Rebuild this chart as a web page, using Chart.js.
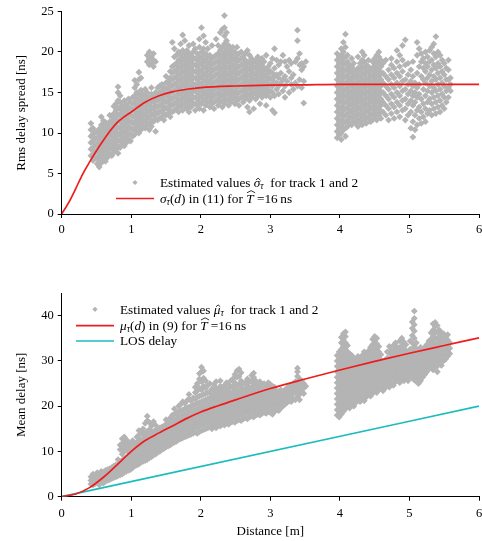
<!DOCTYPE html>
<html>
<head>
<meta charset="utf-8">
<script src="https://cdn.jsdelivr.net/npm/chart.js@4.4.1/dist/chart.umd.min.js"></script>
<style>
html,body{margin:0;padding:0;background:#fff;}
#wrap{position:relative;width:482px;height:541px;overflow:hidden;}
canvas{position:absolute;left:0;}
#c1{top:0;}
#c2{top:270px;}
</style>
</head>
<body>
<div id="wrap">
<canvas id="c1" width="490" height="245"></canvas>
<canvas id="c2" width="490" height="271"></canvas>
</div>
<script>
// ---------- tick labels ----------
const distanceTicks = [0, 1, 2, 3, 4, 5, 6];
const rmsTicks = [0, 5, 10, 15, 20, 25];
const meanTicks = [0, 10, 20, 30, 40];

// ---------- scatter data: each row = [distance, values at that distance...] ----------
const rmsTrack1 = [
[0.42,7.2,8.0,8.8,9.6,10.4,11.2],[0.45,6.6,7.4,8.2,9.0,9.8,10.6],[0.48,6.9,7.7,8.5,9.3,10.1],
[0.51,6.2,7.0,7.8,8.6,9.4,10.2],[0.54,5.8,6.6,7.4,8.2,9.0,9.8,10.5],[0.57,6.3,7.1,7.9,8.7,9.5,10.3,11.0,12.0],
[0.60,6.8,7.6,8.4,9.2,10.0,10.8,11.5],[0.63,6.5,7.3,8.1,8.9,9.7,10.5,11.3],[0.66,7.0,7.8,8.6,9.4,10.2,11.0],
[0.69,7.4,8.2,9.0,9.8,10.6,11.4,12.2],[0.72,7.2,8.0,8.8,9.6,10.4,11.2,12.0],[0.75,7.6,8.4,9.2,10.0,10.8,11.6,12.4,13.3],
[0.78,8.0,8.8,9.6,10.4,11.2,12.0,12.8,13.6],[0.81,7.5,8.3,9.1,9.9,10.7,11.5,12.3,13.1,14.0,15.0,15.7],
[0.84,8.2,9.0,9.8,10.6,11.4,12.2,13.0,13.8,14.6],[0.87,8.6,9.4,10.2,11.0,11.8,12.6,13.4],
[0.90,8.4,9.2,10.0,10.8,11.6,12.4,13.2,14.0],[0.93,8.8,9.6,10.4,11.2,12.0,12.8,13.6],
[0.96,9.2,10.0,10.8,11.6,12.4,13.2,14.2],[0.99,9.0,9.8,10.6,11.4,12.2,13.0,13.8],
[1.02,9.6,10.4,11.2,12.0,12.8,13.6,14.4],[1.05,9.8,10.6,11.4,12.2,13.0,13.8,14.6,15.6,16.5],
[1.08,10.2,11.0,11.8,12.6,13.4,14.2,15.0,16.0],[1.11,10.0,10.8,11.6,12.4,13.2,14.0,14.8,16.6,17.5],
[1.14,10.4,11.2,12.0,12.8,13.6,14.4,15.3,16.8],[1.17,10.8,11.6,12.4,13.2,14.0,14.8],
[1.20,10.6,11.4,12.2,13.0,13.8,14.6,15.4],[1.23,11.0,11.8,12.6,13.4,14.2,15.0,18.8,19.6],
[1.26,10.4,11.2,12.0,12.8,13.6,14.4,18.4,19.2,20.0],[1.29,10.8,11.6,12.4,13.2,14.0,14.8,15.6,18.6,19.4],
[1.32,11.4,12.2,13.0,13.8,14.6,18.2,19.0,19.8],[1.35,10.2,11.8,12.6,13.4,14.2,15.0,18.8],
[1.38,11.6,12.4,13.2,14.0,14.8,15.6],[1.41,11.8,12.6,13.4,14.2,15.0,15.8],[1.44,12.0,12.8,13.6,14.4,15.2,16.0],
[1.47,11.6,12.4,13.2,14.0,14.8,15.6],[1.50,12.2,13.0,13.8,14.6,15.4,16.2,17.0],[1.53,12.4,13.2,14.0,14.8,15.6,16.4],
[1.56,12.0,12.8,13.6,14.4,15.2,16.0,16.8,17.6],[1.59,12.6,13.4,14.2,15.0,15.8,16.6,17.4,18.2,21.2],
[1.62,12.8,13.6,14.4,15.2,16.0,16.8,17.6,18.4,19.4,20.4],[1.65,13.0,13.8,14.6,15.4,16.2,17.0,17.8,18.6,19.6],
[1.68,12.6,13.4,14.2,15.0,15.8,16.6,17.4,18.2,19.0,20.0],[1.71,13.2,14.0,14.8,15.6,16.4,17.2,18.0,18.8,19.6,21.0],
[1.74,12.8,13.6,14.4,15.2,16.0,16.8,17.6,18.4,19.2,20.2,22.1],[1.77,13.4,14.2,15.0,15.8,16.6,17.4,18.2,19.0,19.8,21.4],
[1.80,13.0,13.8,14.6,15.4,16.2,17.0,17.8,18.6,19.4,20.2],[1.83,12.6,13.4,14.2,15.0,15.8,16.6,17.4,18.2,19.0,19.8,20.8],
[1.86,13.2,14.0,14.8,15.6,16.4,17.2,18.0,18.8,19.6],[1.89,13.6,14.4,15.2,16.0,16.8,17.6,18.4,19.2,20.0,21.0],
[1.92,12.8,13.6,14.4,15.2,16.0,16.8,17.6,18.4,19.2,20.4],[1.95,13.4,14.2,15.0,15.8,16.6,17.4,18.2,19.0,19.8],
[1.98,13.0,13.8,14.6,15.4,16.2,17.0,17.8,18.6,19.4,20.6,21.6],[2.01,13.6,14.4,15.2,16.0,16.8,17.6,18.4,19.2,20.0,23.0],
[2.04,12.8,14.0,14.8,15.6,16.4,17.2,18.0,18.8,19.6,20.4,22.0],[2.07,13.4,14.2,15.0,15.8,16.6,17.4,18.2,19.0,19.8,21.2],
[2.10,13.8,14.6,15.4,16.2,17.0,17.8,18.6,19.4,20.4],[2.13,13.2,14.0,14.8,15.6,16.4,17.2,18.0,18.8,19.6],
[2.16,13.6,14.4,15.2,16.0,16.8,17.6,18.4,19.2,20.8],[2.19,13.0,13.8,14.6,15.4,16.2,17.0,17.8,18.6,19.4],
[2.22,14.0,14.8,15.6,16.4,17.2,18.0,18.8,19.6,21.6],[2.25,13.4,14.2,15.0,15.8,16.6,17.4,18.2,19.0,19.8,20.8],
[2.28,13.8,14.6,15.4,16.2,17.0,17.8,18.6,19.4,20.2,22.4],[2.31,13.2,14.0,14.8,15.6,16.4,17.2,18.0,18.8,19.6,20.6,22.8],
[2.34,13.6,14.4,15.2,16.0,16.8,17.6,18.4,19.2,20.0,21.0,22.0,23.0,24.5],[2.37,14.0,14.8,15.6,16.4,17.2,18.0,18.8,19.6,20.4,21.4,22.4],
[2.40,13.4,14.2,15.0,15.8,16.6,17.4,18.2,19.0,19.8,20.8],[2.43,13.8,14.6,15.4,16.2,17.0,17.8,18.6,19.4,20.2],
[2.46,14.2,15.0,15.8,16.6,17.4,18.2,19.0,19.8,20.6],[2.49,13.6,14.4,15.2,16.0,16.8,17.6,18.4,19.2,20.0],
[2.52,14.0,14.8,15.6,16.4,17.2,18.0,18.8,19.6,20.6],[2.55,13.4,14.2,15.0,15.8,16.6,17.4,18.2,19.0,19.8],
[2.58,14.4,15.2,16.0,16.8,17.6,18.4,19.2,20.0],[2.61,13.8,14.6,15.4,16.2,17.0,17.8,18.6,19.4],
[2.64,14.2,15.0,15.8,16.6,17.4,18.2,19.0,19.8],[2.67,13.2,14.6,15.4,16.2,17.0,17.8,18.6,20.2],
[2.70,12.6,14.0,14.8,15.6,16.4,17.2,18.0,18.8,19.6],[2.73,14.4,15.2,16.0,16.8,17.6,18.4,19.2],
[2.76,13.0,14.8,15.6,16.4,17.2,18.0,18.8],[2.79,14.2,15.0,15.8,16.6,17.4,18.2,19.0],
[2.82,14.6,15.4,16.2,17.0,17.8,18.6,19.4],[2.85,13.6,14.8,15.6,16.4,17.2,18.0,18.8],
[2.88,14.4,15.2,16.0,16.8,17.6,18.4,19.2],[2.91,14.8,15.6,16.4,17.2,18.0,18.8],
[2.94,13.4,14.6,15.4,16.2,17.0,17.8,19.6],[2.97,15.0,15.8,16.6,17.4,18.2],
[3.00,14.4,15.2,16.0,16.8,17.6,18.6],[3.03,12.8,15.0,15.8,16.6,17.4,19.2],
[3.06,12.5,14.6,16.2,17.0,18.0,20.4],[3.09,15.4,16.2,17.2,19.0],[3.12,14.8,15.8,16.8,18.4],
[3.15,16.2,17.4,18.8],[3.18,15.2,16.6,19.6],[3.21,14.4,15.8,17.0,18.8],[3.24,16.4,18.2],
[3.27,15.0,17.6,19.0],[3.30,16.0,16.8,18.6],[3.33,15.4,17.2],[3.36,16.2,18.8],
[3.39,15.8,19.2,21.4,22.7],[3.42,16.6,18.4,19.8],[3.45,15.6,17.8,18.6],[3.48,13.7,16.4,18.2],[3.51,18.8]
];
const rmsTrack2 = [
[3.96,9.4,10.2,11.0,11.8,12.6,13.4,14.2,15.0,15.8,16.6,17.4,18.2,19.0,19.8],
[3.99,9.8,10.6,11.4,12.2,13.0,13.8,14.6,15.4,16.2,17.0,17.8,18.6,19.4],
[4.02,9.2,10.0,10.8,11.6,12.4,13.2,14.0,14.8,15.6,16.4,17.2,18.0,18.8,19.6,20.4],
[4.05,10.4,11.2,12.0,12.8,13.6,14.4,15.2,16.0,16.8,17.6,18.4,19.2,20.0,21.2],
[4.08,9.6,10.6,11.4,12.2,13.0,13.8,14.6,15.4,16.2,17.0,17.8,18.6,19.4,20.6,22.2],
[4.11,10.8,11.6,12.4,13.2,14.0,14.8,15.6,16.4,17.2,18.0,18.8,19.6],
[4.14,11.2,12.0,12.8,13.6,14.4,15.2,16.0,16.8,17.6,18.4],
[4.17,11.0,11.8,12.6,13.4,14.2,15.0,15.8,16.6,17.4,18.2,19.2],
[4.20,11.4,12.2,13.0,13.8,14.6,15.4,16.2,17.0,17.8,18.6],
[4.23,11.2,12.0,12.8,13.6,14.4,15.2,16.0,16.8,17.6],
[4.26,10.8,11.6,12.4,13.2,14.0,14.8,15.6,16.4,17.2,18.0,19.4],
[4.29,11.4,12.2,13.0,13.8,14.6,15.4,16.2,17.0,17.8,18.6],
[4.32,11.0,11.8,12.6,13.4,14.2,15.0,15.8,16.6,17.4,18.2,19.0,20.0],
[4.35,11.6,12.4,13.2,14.0,14.8,15.6,16.4,17.2,18.0,18.8,19.6],
[4.38,11.2,12.0,12.8,13.6,14.4,15.2,16.0,16.8,17.6,18.4],
[4.41,11.8,12.6,13.4,14.2,15.0,15.8,16.6,17.4,18.2,19.0],
[4.44,11.4,12.2,13.0,13.8,14.6,15.4,16.2,17.0,17.8],
[4.47,11.6,12.4,13.2,14.0,14.8,15.6,16.4,17.2,18.0,18.8],
[4.50,12.0,12.8,13.6,14.4,15.2,16.0,16.8,17.6,18.4,19.2],
[4.53,11.6,12.4,13.2,14.0,14.8,15.6,16.4,17.2,18.0,18.8,19.6],
[4.56,12.2,13.0,13.8,14.6,15.4,16.2,17.0,17.8,18.6,19.4,20.0],
[4.59,11.8,12.6,13.4,14.2,15.0,15.8,16.6,17.4,18.2,19.0],
[4.62,12.6,13.8,15.0,16.2,17.4,18.6],[4.66,12.2,13.4,14.6,15.8,17.0,19.0],
[4.70,11.6,13.0,14.2,15.4,16.6,17.8],[4.74,12.4,13.6,14.8,16.0,17.2,18.4,19.2],
[4.78,11.8,13.2,14.4,15.6,16.8,18.0],[4.82,12.6,13.8,15.0,16.2,17.4,18.8,20.2],
[4.86,12.0,13.4,14.6,15.8,17.0,18.2,19.6],[4.90,12.8,14.0,15.2,16.4,17.6,19.0,20.8],
[4.94,11.6,13.0,14.2,15.4,16.6,18.4,21.5],[4.98,12.2,13.6,14.8,16.0,17.2,18.6],
[5.02,10.6,12.6,14.0,15.2,16.4,17.8],[5.05,9.5,11.4,13.4,14.6,15.8,17.0,18.8],
[5.08,10.4,12.2,13.8,15.0,16.2],[5.11,11.0,12.8,14.4,15.6,17.4,19.6,21.2],
[5.14,11.8,13.2,14.8,16.0,18.2,20.4],[5.17,11.2,12.6,14.2,17.0,18.8,19.8],
[5.20,12.0,13.6,15.4,16.6,18.0,19.2],[5.23,11.4,13.0,14.6,16.2,17.6,18.6,20.0],
[5.26,12.4,13.8,15.2,16.8,18.2,19.4],[5.29,12.8,14.2,15.8,17.2,18.8,20.2],
[5.32,12.2,13.6,15.0,16.4,17.8,19.0,20.6],[5.35,13.0,14.4,15.6,17.0,18.4,19.8,21.0],
[5.38,12.4,13.8,15.2,16.6,18.0,19.4,21.9],[5.41,13.2,14.6,16.0,17.4,18.6,20.0],
[5.44,12.6,14.0,15.4,16.8,18.2,19.6],[5.47,13.4,14.8,16.2,17.6,19.0],
[5.50,13.0,14.4,15.8,17.2,18.6],[5.53,13.8,15.2,16.6,18.0],[5.56,14.4,15.6,16.6,17.8,19.0],[5.59,15.2,16.0,16.8]
];
const meanTrack1 = [
[0.42,2.8,3.6,4.4],[0.45,2.6,3.4,4.2,5.0],[0.48,2.9,3.7,4.5],[0.51,3.0,3.8,4.6,5.3],[0.54,2.6,3.4,4.2,5.0],
[0.57,3.2,4.0,4.8,5.6],[0.60,3.0,3.8,4.6,5.4],[0.63,3.4,4.2,5.0,5.8],[0.66,3.6,4.4,5.2,6.0],[0.69,3.8,4.6,5.4,6.2],
[0.72,4.0,4.8,5.6,6.4],[0.75,4.2,5.0,5.8,6.8],[0.78,4.4,5.2,6.0,7.0],[0.81,4.6,5.4,6.2,7.2,8.2],
[0.84,4.8,5.8,6.8,7.8,10.4,11.4],[0.87,5.0,6.0,7.0,8.0,9.4,10.6,11.8,12.8],[0.90,5.4,6.4,7.4,8.4,10.0,11.2,12.4,13.2],
[0.93,5.6,6.6,7.6,8.6,10.4,11.6,12.6],[0.96,5.8,6.8,7.8,8.8,9.8,11.0,12.0],[0.99,6.0,7.0,8.0,9.0,10.2,11.4],
[1.02,6.4,7.4,8.4,9.4,10.4,11.6,12.4],[1.05,6.8,7.8,8.8,9.8,10.8,11.8],[1.08,7.0,8.0,9.0,10.0,11.0,12.0,13.2],
[1.11,7.2,8.2,9.2,10.2,11.2,12.4,13.6,14.6],[1.14,7.6,8.6,9.6,10.6,11.6,12.6,14.2],
[1.17,7.8,8.8,9.8,10.8,11.8,12.8,13.8,15.0],[1.20,8.0,9.0,10.0,11.0,12.0,13.0,14.0,16.2],
[1.23,8.2,9.2,10.2,11.2,12.2,13.2,14.4,16.8,17.8],[1.26,8.6,9.6,10.6,11.6,12.6,13.6,14.8,16.4],
[1.29,8.8,9.8,10.8,11.8,12.8,14.0,15.6],[1.32,9.2,10.2,11.2,12.2,13.2,14.4,16.6],
[1.35,9.4,10.4,11.4,12.4,13.4,14.6,15.8],[1.38,9.8,10.8,11.8,12.8,13.8,15.0],[1.41,10.0,11.0,12.0,13.0,14.0,15.2],
[1.44,10.4,11.4,12.4,13.4,14.4,15.4],[1.47,10.6,11.6,12.6,13.6,14.6,15.6],[1.50,11.0,12.0,13.0,14.0,15.0,16.0,17.0],
[1.53,11.2,12.2,13.2,14.2,15.2,16.2],[1.56,11.4,12.4,13.4,14.4,15.4,16.4,17.4],[1.59,11.8,12.8,13.8,14.8,15.8,16.8,18.0],
[1.62,12.0,13.0,14.0,15.0,16.0,17.0,18.2,19.4],[1.65,12.2,13.2,14.2,15.2,16.2,17.2,18.4],
[1.68,12.6,13.6,14.6,15.6,16.6,17.6,18.8,20.0],[1.71,12.8,13.8,14.8,15.8,16.8,17.8,19.0,20.4],
[1.74,13.0,14.0,15.0,16.0,17.0,18.0,19.2,21.0],[1.77,13.2,14.2,15.2,16.2,17.2,18.2,19.4,20.6],
[1.80,13.4,14.4,15.4,16.4,17.4,18.4,19.6,21.2],[1.83,13.6,14.6,15.6,16.6,17.6,18.6,19.8,21.6,22.6],
[1.86,13.8,14.8,15.8,16.8,17.8,18.8,20.0,21.2],[1.89,14.0,15.0,16.0,17.0,18.0,19.0,20.2,21.8],
[1.92,14.2,15.2,16.2,17.2,18.2,19.2,20.4,21.6,23.0,24.2],[1.95,14.0,15.4,16.4,17.4,18.4,19.4,20.6,22.0,23.4,25.0],
[1.98,14.4,15.6,16.6,17.6,18.6,19.6,20.8,22.2,24.0,26.0,27.2],[2.01,14.6,15.8,16.8,17.8,18.8,19.8,21.0,22.4,23.6,25.4,27.6,28.6],
[2.04,14.8,16.0,17.0,18.0,19.0,20.0,21.2,22.6,24.4,26.2,27.8],[2.07,15.0,16.2,17.2,18.2,19.2,20.2,21.4,22.8,24.0,25.6],
[2.10,15.2,16.4,17.4,18.4,19.4,20.4,21.6,23.0,24.6],[2.13,15.4,16.6,17.6,18.6,19.6,20.6,21.8,23.2,25.0],
[2.16,15.0,16.2,17.2,18.2,19.2,20.2,21.2,22.4,23.8],[2.19,15.6,16.8,17.8,18.8,19.8,20.8,22.0,23.4,24.8],
[2.22,15.2,16.4,17.4,18.4,19.4,20.4,21.4,22.6,24.0,25.4],[2.25,15.8,17.0,18.0,19.0,20.0,21.0,22.2,23.6],
[2.28,15.6,16.8,17.8,18.8,19.8,20.8,21.8,23.0,24.4,25.6],[2.31,16.0,17.2,18.2,19.2,20.2,21.2,22.4,23.8],
[2.34,15.8,17.0,18.0,19.0,20.0,21.0,22.0,23.2,24.6],[2.37,16.2,17.4,18.4,19.4,20.4,21.4,22.6,24.0,25.2],
[2.40,16.0,17.2,18.2,19.2,20.2,21.2,22.2,23.4,24.6],[2.43,16.4,17.6,18.6,19.6,20.6,21.6,22.8,24.2,25.6],
[2.46,16.6,17.8,18.8,19.8,20.8,21.8,23.0,24.4,26.0],[2.49,16.4,17.6,18.6,19.6,20.6,21.6,22.6,23.8,25.2,27.0],
[2.52,16.8,18.0,19.0,20.0,21.0,22.0,23.2,24.6,26.4,27.8],[2.55,17.0,18.2,19.2,20.2,21.2,22.2,23.4,24.8,26.6,28.2],
[2.58,16.8,18.0,19.0,20.0,21.0,22.0,23.0,24.2,25.6,27.4],[2.61,17.2,18.4,19.4,20.4,21.4,22.4,23.6,25.0],
[2.64,17.4,18.6,19.6,20.6,21.6,22.6,23.8,25.2],[2.67,17.2,18.4,19.4,20.4,21.4,22.4,23.4,24.6,26.0],
[2.70,17.6,18.8,19.8,20.8,21.8,22.8,24.0,25.4],[2.73,17.8,19.0,20.0,21.0,22.0,23.0,24.2,25.6,26.8],
[2.76,17.6,18.8,19.8,20.8,21.8,22.8,23.8,25.0,26.4,27.3],[2.79,18.0,19.2,20.2,21.2,22.2,23.2,24.4,25.6],
[2.82,18.2,19.4,20.4,21.4,22.4,23.4,24.6],[2.85,18.0,19.2,20.2,21.2,22.2,23.2,24.2,25.4],
[2.88,18.4,19.6,20.6,21.6,22.6,23.6,24.8],[2.91,18.6,19.8,20.8,21.8,22.8,23.8,25.0],
[2.94,18.4,19.6,20.6,21.6,22.6,23.6,24.6],[2.97,18.8,20.0,21.0,22.0,23.0,24.0,25.2],
[3.00,18.6,19.8,20.8,21.8,22.8,23.8,24.8],[3.03,18.2,19.4,20.6,21.6,22.6,23.6,24.4],
[3.06,18.8,20.0,21.2,22.2,23.2,24.2],[3.09,19.2,20.4,21.4,22.4,23.4],[3.12,19.0,20.2,21.2,22.2,23.2],
[3.15,19.6,20.8,21.8,22.8,23.6],[3.18,20.0,21.0,22.0,23.0],[3.21,20.4,21.6,22.6,23.6],[3.24,20.8,21.8,22.8,24.0],
[3.27,21.2,22.2,23.2,24.4],[3.30,21.0,22.4,23.4,24.6],[3.33,21.6,22.8,24.0,25.0],[3.36,21.4,23.0,24.2,25.4],
[3.39,22.0,23.4,24.6,26.6,27.6,28.4],[3.42,21.4,22.6,23.8,25.0,26.0],[3.45,23.2,24.4,25.6],[3.48,22.8,24.0,25.0],[3.51,24.4]
];
const meanTrack2 = [
[3.96,18.0,19.2,20.4,21.6,22.8,24.0,25.2,26.4,27.6,28.8,30.0,31.2],
[3.99,17.6,18.8,20.0,21.2,22.4,23.6,24.8,26.0,27.2,28.4,29.6,30.8,32.0],
[4.02,18.2,19.4,20.6,21.8,23.0,24.2,25.4,26.6,27.8,29.0,30.2,31.4,32.6,34.0,35.2],
[4.05,18.8,20.0,21.2,22.4,23.6,24.8,26.0,27.2,28.4,29.6,30.8,32.0,33.2,34.6,36.0],
[4.08,19.4,20.6,21.8,23.0,24.2,25.4,26.6,27.8,29.0,30.2,31.4,32.6,34.0,35.4,36.4],
[4.11,20.0,21.2,22.4,23.6,24.8,26.0,27.2,28.4,29.6,30.8,32.0,33.4],
[4.14,19.6,20.8,22.0,23.2,24.4,25.6,26.8,28.0,29.2,30.4,31.6],
[4.17,20.4,21.6,22.8,24.0,25.2,26.4,27.6,28.8,30.0,31.2],
[4.20,20.0,21.2,22.4,23.6,24.8,26.0,27.2,28.4,29.6,30.6],
[4.23,20.8,22.0,23.2,24.4,25.6,26.8,28.0,29.2,30.4],
[4.26,21.4,22.6,23.8,25.0,26.2,27.4,28.6,29.8,31.0],
[4.29,21.0,22.2,23.4,24.6,25.8,27.0,28.2,29.4,30.6],
[4.32,21.6,22.8,24.0,25.2,26.4,27.6,28.8,30.0,31.2],
[4.35,21.2,22.4,23.6,24.8,26.0,27.2,28.4,29.6,30.8,32.0],
[4.38,22.0,23.2,24.4,25.6,26.8,28.0,29.2,30.4,31.4],
[4.41,22.6,23.8,25.0,26.2,27.4,28.6,29.8,31.0,32.2],
[4.44,22.2,23.4,24.6,25.8,27.0,28.2,29.4,30.6,31.8,33.0],
[4.47,22.8,24.0,25.2,26.4,27.6,28.8,30.0,31.2,32.4,33.6,34.8],
[4.50,23.4,24.6,25.8,27.0,28.2,29.4,30.6,31.8,33.0,34.2,35.4],
[4.53,23.0,24.2,25.4,26.6,27.8,29.0,30.2,31.4,32.6,33.8,35.0],
[4.56,23.6,24.8,26.0,27.2,28.4,29.6,30.8,32.0,33.2],
[4.59,24.2,25.4,26.6,27.8,29.0,30.2,31.4],
[4.62,23.4,24.8,26.0,27.2,28.4,29.6],[4.65,24.0,25.4,26.6,27.8,29.0,30.2],
[4.68,24.6,25.8,27.0,28.2,29.4,30.6,32.0],[4.71,24.2,25.6,26.8,28.0,29.2,30.4,31.8,33.2],
[4.74,25.0,26.2,27.4,28.6,29.8,31.0,32.4],[4.77,24.6,26.0,27.2,28.4,29.6,30.8,32.0,33.4],
[4.80,25.4,26.6,27.8,29.0,30.2,31.4,32.6,34.0],[4.83,25.8,27.0,28.2,29.4,30.6,31.8,33.0],
[4.86,25.2,26.6,27.8,29.0,30.2,31.4,32.8,34.4],[4.89,26.0,27.2,28.4,29.6,30.8,32.0,33.4,35.0],
[4.92,25.6,26.8,28.0,29.2,30.4,31.6,32.8,34.2],[4.95,26.2,27.4,28.6,29.8,31.0,32.2,33.6],
[4.98,25.6,26.8,28.0,29.2,30.4,31.6],[5.01,26.6,27.8,29.0,30.2,31.4,32.6,34.4],
[5.04,26.2,27.4,28.6,29.8,31.0,32.4,34.0,35.6,37.2,38.6],
[5.07,25.8,27.0,28.2,29.4,30.6,31.8,33.2,35.0,36.6,38.0,39.4,41.0],
[5.10,25.4,26.6,27.8,29.0,30.2,31.4,32.6,34.0],[5.13,25.0,26.2,27.4,28.6,29.8,31.0,32.2],
[5.16,25.6,26.8,28.0,29.2,30.4,31.6,33.0],[5.19,26.4,27.6,28.8,30.0,31.2,32.4],
[5.22,27.0,28.2,29.4,30.6,31.8,33.0],[5.25,27.6,28.8,30.0,31.2,32.4,33.6],
[5.28,28.2,29.4,30.6,31.8,33.0,34.4],[5.31,28.6,29.8,31.0,32.2,33.4,34.8,36.2],
[5.34,28.0,29.2,30.4,31.6,32.8,34.0,35.4,36.8,38.2],[5.37,28.8,30.0,31.2,32.4,33.6,34.8,36.2,37.6,38.5],
[5.40,27.6,28.8,30.0,31.2,32.4,33.6,35.0,36.4,37.8],[5.43,29.4,30.6,31.8,33.0,34.2,35.4,36.8],
[5.46,29.0,30.2,31.4,32.6,33.8,35.0,36.2],[5.49,30.0,31.2,32.4,33.6,34.8,36.0],
[5.52,30.4,31.6,32.8,34.0,35.2],[5.55,31.0,32.2,33.4,34.6,35.8],[5.58,31.6,32.8,34.0]
];

// ---------- model curves: [distance, value] ----------
const rmsModel = [[0,0],[0.1,1.4],[0.2,3.1],[0.3,4.9],[0.4,6.4],[0.5,7.8],[0.6,9.1],[0.7,10.3],[0.8,11.3],
  [0.9,12.0],[1.0,12.6],[1.2,13.8],[1.4,14.6],[1.6,15.1],[1.8,15.4],[2.0,15.6],[2.5,15.8],[3.0,15.9],[3.5,15.95],[4.0,16],[6.0,16]];
const meanModel = [[0,0],[0.2,0.6],[0.4,2.0],[0.6,4.3],[0.8,7.1],[1.0,10.0],[1.2,12.4],[1.4,14.1],[1.6,15.7],
  [1.8,17.3],[2.0,18.7],[2.25,20.1],[2.5,21.4],[3.0,23.9],[3.5,26.0],[4.0,28.0],[4.5,29.9],[5.0,31.7],[5.5,33.4],[6.0,35.1]];
const losDelay = [[0,0],[6,20]];

// ---------- helpers ----------
function colsToPoints(...sets){
  const out=[];
  sets.forEach(s=>s.forEach(row=>{for(let i=1;i<row.length;i++) out.push({x:row[0],y:row[i]});}));
  return out;
}
function pairs(a){return a.map(p=>({x:p[0],y:p[1]}));}

const GRAY='#b4b4b4', RED='#ee1c1c', CYAN='#1cbcbc';
const SERIF='"Liberation Serif","DejaVu Serif",serif';
const tickFont={family:SERIF,size:12.5};
const titleFont={family:SERIF,size:13};

// legend plugin (draws rich text lines inside chart)
const richLegend={
  id:'richLegend',
  afterDraw(chart,args,opts){
    const ctx=chart.ctx; const fs=opts.size||13.3;
    ctx.save();
    ctx.textBaseline='alphabetic'; ctx.fillStyle='#000';
    opts.items.forEach(it=>{
      const base=it.y+fs*0.33;
      if(it.marker==='diamond'){
        const r=2.6; ctx.fillStyle=GRAY; ctx.beginPath();
        ctx.moveTo(it.mx-r,it.y);ctx.lineTo(it.mx,it.y-r);ctx.lineTo(it.mx+r,it.y);ctx.lineTo(it.mx,it.y+r);ctx.closePath();ctx.fill();
      } else {
        ctx.strokeStyle=it.color; ctx.lineWidth=1.7; ctx.beginPath();
        ctx.moveTo(it.mx0,it.y);ctx.lineTo(it.mx1,it.y);ctx.stroke();
      }
      ctx.fillStyle='#000';
      let x=opts.tx;
      it.runs.forEach(r=>{
        let size=fs, dy=0, style='';
        if(r.s==='i') style='italic ';
        if(r.s==='sub'){style='italic ';size=fs*0.7;dy=fs*0.18;}
        ctx.font=style+size+'px '+SERIF;
        const w=ctx.measureText(r.t).width;
        ctx.fillText(r.t,x,base+dy);
        if(r.hat){
          // circumflex accent over the symbol
          const cx=x+w/2+(r.wide?1.2:1.0);
          const hw=r.wide?w*0.55:w*0.32;
          const top=r.wide?base-fs*0.92:base-fs*0.66;
          const hh=r.wide?fs*0.16:fs*0.14;
          ctx.strokeStyle='#000'; ctx.lineWidth=0.8; ctx.beginPath();
          ctx.moveTo(cx-hw,top+hh);ctx.lineTo(cx,top);ctx.lineTo(cx+hw,top+hh);ctx.stroke();
        }
        x+=w;
      });
    });
    ctx.restore();
  }
};

function axisCommon(extra){
  return Object.assign({
    type:'linear',
    grid:{drawOnChartArea:false,drawTicks:true,tickLength:4,color:'#000',lineWidth:1},
    border:{display:true,color:'#000',width:1},
    ticks:{font:tickFont,color:'#000',padding:4,maxRotation:0,autoSkip:false}
  },extra);
}

function makeChart(id,cfg){
  return new Chart(document.getElementById(id),{
    type:'scatter',
    data:{datasets:[
      ...cfg.lines.map(l=>({type:'line',data:pairs(l.data),borderColor:l.color,borderWidth:1.7,pointRadius:0,
        fill:false,tension:0.4,cubicInterpolationMode:'monotone',order:0})),
      {data:cfg.points,pointStyle:'rectRot',pointRadius:3.4,pointBackgroundColor:GRAY,pointBorderWidth:0,
        backgroundColor:GRAY,borderWidth:0,order:5}
    ]},
    options:{
      responsive:false,animation:false,events:[],
      layout:{padding:{top:cfg.padTop,right:11,left:0,bottom:0}},
      plugins:{legend:{display:false},tooltip:{enabled:false},richLegend:cfg.legend},
      scales:{
        x:axisCommon({min:0,max:6,
          afterBuildTicks:s=>{s.ticks=distanceTicks.map(v=>({value:v}));},
          afterFit:s=>{s.height=cfg.xHeight;},
          title:cfg.xTitle?{display:true,text:cfg.xTitle,font:titleFont,color:'#000',padding:{top:0,bottom:2}}:{display:false},
          ticks:{font:tickFont,color:'#000',padding:cfg.xPad,maxRotation:0,autoSkip:false}
        }),
        y:axisCommon({min:0,max:cfg.yMax,
          afterBuildTicks:s=>{s.ticks=cfg.yTicks.map(v=>({value:v}));},
          afterFit:s=>{s.width=61.7;},
          title:{display:true,text:cfg.yTitle,font:titleFont,color:'#000',padding:{top:14,bottom:0}}
        })
      }
    },
    plugins:[richLegend]
  });
}

makeChart('c1',{
  points:colsToPoints(rmsTrack1,rmsTrack2),
  lines:[{data:rmsModel,color:RED}],
  padTop:10.7,xHeight:31,xPad:4,yMax:25,yTicks:rmsTicks,yTitle:'Rms delay spread [ns]',
  legend:{tx:160,items:[
    {marker:'diamond',mx:135,y:182.5,runs:[{t:'Estimated values '},{t:'σ',s:'i',hat:true},{t:'τ',s:'sub'},{t:'  for track 1 and 2'}]},
    {marker:'line',color:RED,mx0:116,mx1:154,y:198.5,runs:[{t:'σ',s:'i'},{t:'τ',s:'sub'},{t:'('},{t:'d',s:'i'},{t:') in (11) for '},{t:'T',s:'i',hat:true,wide:true},{t:' =16\u2009ns'}]}
  ]}
});

makeChart('c2',{
  points:colsToPoints(meanTrack1,meanTrack2),
  lines:[{data:meanModel,color:RED},{data:losDelay,color:CYAN}],
  padTop:23,xHeight:44.3,xPad:5.5,yMax:45,yTicks:meanTicks,yTitle:'Mean delay [ns]',xTitle:'Distance [m]',
  legend:{tx:120,items:[
    {marker:'diamond',mx:95,y:39.3,runs:[{t:'Estimated values '},{t:'μ',s:'i',hat:true},{t:'τ',s:'sub'},{t:'  for track 1 and 2'}]},
    {marker:'line',color:RED,mx0:76,mx1:114,y:55.7,runs:[{t:'μ',s:'i'},{t:'τ',s:'sub'},{t:'('},{t:'d',s:'i'},{t:') in (9) for '},{t:'T',s:'i',hat:true,wide:true},{t:' =16\u2009ns'}]},
    {marker:'line',color:CYAN,mx0:76,mx1:114,y:71,runs:[{t:'LOS delay'}]}
  ]}
});
</script>
</body>
</html>
